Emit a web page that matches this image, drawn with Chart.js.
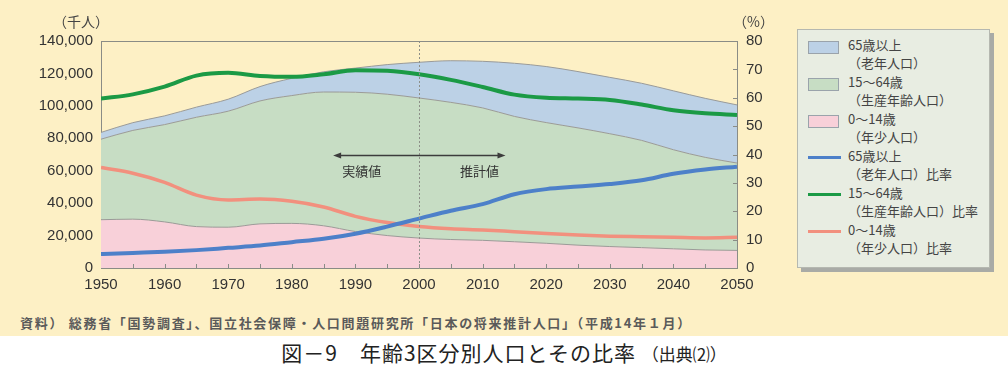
<!DOCTYPE html>
<html lang="ja">
<head>
<meta charset="UTF-8">
<title>年齢3区分別人口とその比率</title>
<script src="https://cdn.jsdelivr.net/npm/chart.js"></script>
<style>
  body { margin: 0; background: #fff; font-family: "Noto Sans CJK JP", sans-serif; }
  #panel { position: absolute; left: 0; top: 0; width: 1008px; height: 336px; background: #fdf0c5; }
  #grafico { position: absolute; left: 0; top: 0; }
  .unidade { position: absolute; top: 11px; font-size: 14px; color: #444; }
  #legenda {
    position: absolute; left: 797px; top: 29px; width: 193px; height: 239px;
    background: #e8ede2; border: 1px solid #b5b8b0; box-shadow: 4px 4px 0 #a9aba6;
    box-sizing: border-box; padding: 6px 0 0 10px;
  }
  .item { position: relative; padding-left: 40px; font-size: 13px; line-height: 18px; color: #444; margin-bottom: 1px; }
  .sw { position: absolute; left: 0; top: 5px; width: 31px; height: 13px; border: 1px solid #9aa3ab; box-sizing: border-box; }
  .ln { position: absolute; left: 0; top: 9px; width: 33px; height: 3px; }
  #fonte { position: absolute; left: 20px; top: 313px; font-size: 13px; color: #5a5a5a; font-weight: bold; letter-spacing: 1.7px; white-space: nowrap; }
  #legenda-fig { position: absolute; left: 0; top: 337px; width: 1008px; text-align: center; font-size: 21px; letter-spacing: 1px; color: #222; }
  #legenda-fig small { font-size: 17px; letter-spacing: 0; }
</style>
</head>
<body>
<div id="panel">
  <canvas id="grafico" width="790" height="300"></canvas>
  <div class="unidade" style="left:53px">（千人）</div>
  <div class="unidade" style="left:733px">（%）</div>
  <div id="legenda"></div>
  <div id="fonte">資料） 総務省「国勢調査」、国立社会保障・人口問題研究所「日本の将来推計人口」（平成14年１月）</div>
</div>
<div id="legenda-fig">図－9　年齢3区分別人口とその比率 <small>（出典⑵）</small></div>

<script>
// 年
const anos = [1950, 1955, 1960, 1965, 1970, 1975, 1980, 1985, 1990, 1995, 2000,
              2005, 2010, 2015, 2020, 2025, 2030, 2035, 2040, 2045, 2050];

// 人口（千人）
const pop0a14 = [29786, 30123, 28434, 25529, 25153, 27221, 27507, 26033, 22486, 20014, 18472,
                 17570, 17074, 16197, 15239, 14085, 13233, 12567, 11846, 11121, 10842];
const pop15a64 = [49661, 54729, 60002, 67444, 71566, 75807, 78835, 82506, 85904, 87165, 86380,
                  84590, 81665, 77296, 74453, 72325, 69576, 66140, 61090, 57123, 53889];
const pop65 = [4155, 4786, 5398, 6236, 7393, 8865, 10647, 12468, 14895, 18261, 22005,
               25672, 28735, 32772, 34559, 34726, 34770, 35222, 36332, 36396, 35863];

// 比率（%）
const taxa65 = [4.9, 5.3, 5.7, 6.3, 7.1, 7.9, 9.1, 10.3, 12.1, 14.6, 17.4,
                20.2, 22.5, 26.0, 27.8, 28.7, 29.6, 30.9, 33.2, 34.7, 35.7];
const taxa15a64 = [59.7, 61.2, 63.9, 67.8, 68.8, 67.7, 67.4, 68.3, 69.7, 69.5, 68.3,
                   66.3, 63.8, 61.1, 60.0, 59.7, 59.2, 57.6, 55.6, 54.5, 53.9];
const taxa0a14 = [35.4, 33.4, 30.2, 25.7, 24.0, 24.3, 23.5, 21.5, 18.2, 16.0, 14.6,
                  13.8, 13.4, 12.8, 12.2, 11.6, 11.2, 11.0, 10.8, 10.6, 10.8];

const rotulos = [
  ['65歳以上', '（老年人口）'],
  ['15～64歳', '（生産年齢人口）'],
  ['0～14歳', '（年少人口）'],
  ['65歳以上', '（老年人口）比率'],
  ['15～64歳', '（生産年齢人口）比率'],
  ['0～14歳', '（年少人口）比率']
];

const cores = {
  area65: '#bcd1e6', area15: '#c7ddc4', area0: '#f8d0d9',
  linha65: '#4d80c9', linha15: '#1b9a45', linha0: '#f2907e'
};

const pares = (vals) => anos.map((a, i) => ({ x: a, y: vals[i] }));

// 凡例
const legenda = document.getElementById('legenda');
const estilos = [
  ['sw', cores.area65], ['sw', cores.area15], ['sw', cores.area0],
  ['ln', cores.linha65], ['ln', cores.linha15], ['ln', cores.linha0]
];
rotulos.forEach((r, i) => {
  const d = document.createElement('div');
  d.className = 'item';
  d.innerHTML = `<span class="${estilos[i][0]}" style="background:${estilos[i][1]}"></span>${r[0]}<br>${r[1]}`;
  legenda.appendChild(d);
});

// 目盛り（内向き）・上枠・2000年の点線・矢印
const extras = {
  id: 'extras',
  afterDatasetsDraw(chart) {
    const { ctx, chartArea: ca, scales } = chart;
    const x = scales.x, y = scales.y, y1 = scales.y1;
    ctx.save();
    // 2000年 点線
    ctx.strokeStyle = '#8d8f88';
    ctx.lineWidth = 1;
    ctx.setLineDash([2, 2]);
    const x2000 = Math.round(x.getPixelForValue(2000)) + 0.5;
    ctx.beginPath(); ctx.moveTo(x2000, ca.top); ctx.lineTo(x2000, ca.bottom); ctx.stroke();
    ctx.setLineDash([]);
    // 上枠
    ctx.strokeStyle = '#8a8c86';
    ctx.beginPath(); ctx.moveTo(ca.left, ca.top + 0.5); ctx.lineTo(ca.right, ca.top + 0.5); ctx.stroke();
    // x目盛り
    for (let a = 1955; a < 2050; a += 5) {
      const px = Math.round(x.getPixelForValue(a)) + 0.5;
      ctx.beginPath(); ctx.moveTo(px, ca.bottom); ctx.lineTo(px, ca.bottom - 4); ctx.stroke();
    }
    // 右軸目盛り
    for (let v = 10; v < 80; v += 10) {
      const py = Math.round(y1.getPixelForValue(v)) + 0.5;
      ctx.beginPath(); ctx.moveTo(ca.right, py); ctx.lineTo(ca.right - 4, py); ctx.stroke();
    }
    // 矢印
    const ya = Math.round(y.getPixelForValue(70000)) + 0.5;
    const xa = x.getPixelForValue(1986.5), xb = x.getPixelForValue(2013.6);
    ctx.strokeStyle = '#3c3c3c'; ctx.fillStyle = '#3c3c3c'; ctx.lineWidth = 1.5;
    ctx.beginPath(); ctx.moveTo(xa + 4, ya); ctx.lineTo(xb - 4, ya); ctx.stroke();
    ctx.beginPath(); ctx.moveTo(xa, ya); ctx.lineTo(xa + 8, ya - 3); ctx.lineTo(xa + 8, ya + 3); ctx.fill();
    ctx.beginPath(); ctx.moveTo(xb, ya); ctx.lineTo(xb - 8, ya - 3); ctx.lineTo(xb - 8, ya + 3); ctx.fill();
    ctx.font = '13px "Noto Sans CJK JP"';
    ctx.textAlign = 'center'; ctx.textBaseline = 'middle';
    ctx.fillStyle = '#333';
    ctx.fillText('実績値', x.getPixelForValue(1991), ya + 16);
    ctx.fillText('推計値', x.getPixelForValue(2009.5), ya + 16);
    ctx.restore();
  }
};

const fonteEixo = { family: '"Liberation Sans", Arial, sans-serif', size: 15 };

new Chart(document.getElementById('grafico'), {
  type: 'line',
  data: {
    datasets: [
      { label: rotulos[4].join(''), data: pares(taxa15a64), yAxisID: 'y1', borderColor: cores.linha15, borderWidth: 4, fill: false },
      { label: rotulos[3].join(''), data: pares(taxa65), yAxisID: 'y1', borderColor: cores.linha65, borderWidth: 4, fill: false },
      { label: rotulos[5].join(''), data: pares(taxa0a14), yAxisID: 'y1', borderColor: cores.linha0, borderWidth: 3.5, fill: false },
      { label: rotulos[2].join(''), data: pares(pop0a14), yAxisID: 'y', stack: 'pop', backgroundColor: cores.area0, borderColor: '#9a9a98', borderWidth: 1, fill: 'origin' },
      { label: rotulos[1].join(''), data: pares(pop15a64), yAxisID: 'y', stack: 'pop', backgroundColor: cores.area15, borderColor: '#9a9a98', borderWidth: 1, fill: '-1' },
      { label: rotulos[0].join(''), data: pares(pop65), yAxisID: 'y', stack: 'pop', backgroundColor: cores.area65, borderColor: '#9a9a98', borderWidth: 1, fill: '-1' }
    ]
  },
  options: {
    responsive: false,
    devicePixelRatio: 1,
    animation: false,
    layout: { padding: { top: 41, left: 0, right: 0, bottom: 0 } },
    elements: {
      point: { radius: 0 },
      line: { tension: 0.35, cubicInterpolationMode: 'monotone' }
    },
    plugins: { legend: { display: false }, tooltip: { enabled: false } },
    scales: {
      x: {
        type: 'linear', min: 1950, max: 2050,
        grid: { display: false },
        border: { display: true, color: '#8a8c86', width: 1 },
        ticks: { stepSize: 10, color: '#333', font: fonteEixo, padding: 0, maxRotation: 0,
                 callback: v => String(v) },
        afterFit: s => { s.height = 32; }
      },
      y: {
        stacked: true, min: 0, max: 140000, position: 'left',
        grid: { display: false },
        border: { display: true, color: '#8a8c86', width: 1 },
        ticks: { stepSize: 20000, color: '#333', font: fonteEixo, padding: 0,
                 callback: v => v.toLocaleString('en-US') },
        afterFit: s => { s.width = 101; }
      },
      y1: {
        stacked: false, min: 0, max: 80, position: 'right',
        grid: { display: false },
        border: { display: true, color: '#8a8c86', width: 1 },
        ticks: { stepSize: 10, color: '#333', font: fonteEixo, padding: 1 },
        afterFit: s => { s.width = 53; }
      }
    }
  },
  plugins: [extras]
});
</script>
</body>
</html>
